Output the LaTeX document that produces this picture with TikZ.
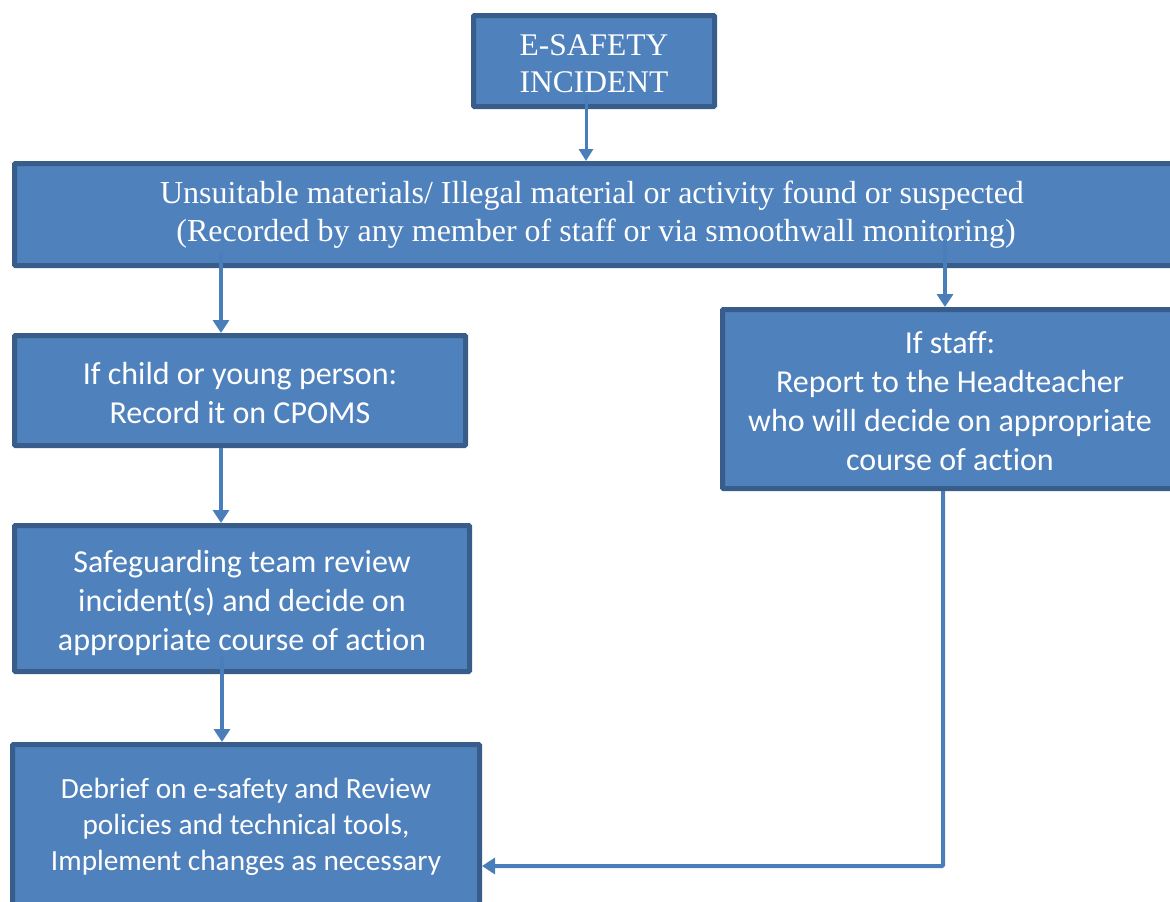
\documentclass[tikz,border=0pt]{standalone}
\usepackage{fontspec}
\setmainfont{Liberation Serif}
\newfontfamily\calfont[Ligatures=NoCommon]{Carlito}
\usetikzlibrary{arrows.meta,calc}
\definecolor{boxfill}{HTML}{4F81BD}
\definecolor{boxline}{HTML}{385D8A}
\definecolor{arrowcol}{HTML}{4A7EBB}
\begin{document}
\begin{tikzpicture}[x=1pt,y=-1pt,
  box/.style={draw=boxline,fill=boxfill,line width=5pt,text=white,align=center,inner sep=0pt,rounded corners=1pt},
  serifbig/.style={font=\fontsize{31.5}{37}\selectfont},
  serifwide/.style={font=\fontsize{32}{38}\selectfont},
  sansbig/.style={font=\calfont\fontsize{32}{39}\selectfont},
  sanssmall/.style={font=\calfont\fontsize{29.3}{36}\selectfont},
  arr/.style={draw=arrowcol,line width=4.5pt,-{Triangle[width=16pt,length=13pt]}},
  thinarr/.style={draw=arrowcol,line width=3pt,-{Triangle[width=14pt,length=12pt]}},
  ]
\useasboundingbox (0,0) rectangle (1170,902);
\node[box,serifbig,minimum width=241pt,minimum height=91pt] (top) at (594,61) {\rule{0pt}{27pt}E-SAFETY\\INCIDENT};
\node[box,serifwide,minimum width=1163pt,minimum height=102pt] (wide) at (596,214.5)
  {\hspace*{-8pt}Unsuitable materials/ Illegal material or activity found or suspected\\(Recorded by any member of staff or via smoothwall monitoring)};
\node[box,sansbig,minimum width=451pt,minimum height=110pt] (l1) at (240,390.5) {\rule{0pt}{27pt}If child or young person:\\Record it on CPOMS};
\node[box,sansbig,minimum width=455pt,minimum height=179pt] (r) at (950,399) {\rule{0pt}{27pt}If staff:\\Report to the Headteacher\\who will decide on appropriate\\course of action};
\node[box,sansbig,minimum width=455pt,minimum height=146pt] (l2) at (242,598.5) {\rule{0pt}{31pt}Safeguarding team review\\incident(s) and decide on\\appropriate course of action};
\node[box,sanssmall,minimum width=467pt,minimum height=161pt] (l3) at (246,825) {\rule{0pt}{25pt}Debrief on e-safety and Review\\policies and technical tools,\\Implement changes as necessary};
% connectors
\coordinate (a0) at ($(top.south)+(-8,0)$);
\draw[thinarr] ($(a0)+(0,-14)$) -- (a0 |- wide.north);
\coordinate (a1) at ($(l1.north)+(-19,0)$);
\draw[arr] ($(a1 |- wide.south)+(0,-15)$) -- (a1);
\coordinate (a2) at ($(r.north)+(-5,0)$);
\draw[arr] ($(a2 |- wide.south)+(0,-28)$) -- (a2);
\coordinate (a3) at ($(l2.north)+(-21,0)$);
\draw[arr] (a3 |- l1.south) -- (a3);
\coordinate (a4) at ($(l3.north)+(-24,0)$);
\draw[arr] ($(a4 |- l2.south)+(0,-18)$) -- (a4);
\coordinate (a5) at ($(r.south)+(-7,0)$);
\coordinate (a6) at ($(l3.east)+(0,41)$);
\draw[arr,line width=4pt,rounded corners=1pt] (a5) |- (a6);
\end{tikzpicture}
\end{document}
